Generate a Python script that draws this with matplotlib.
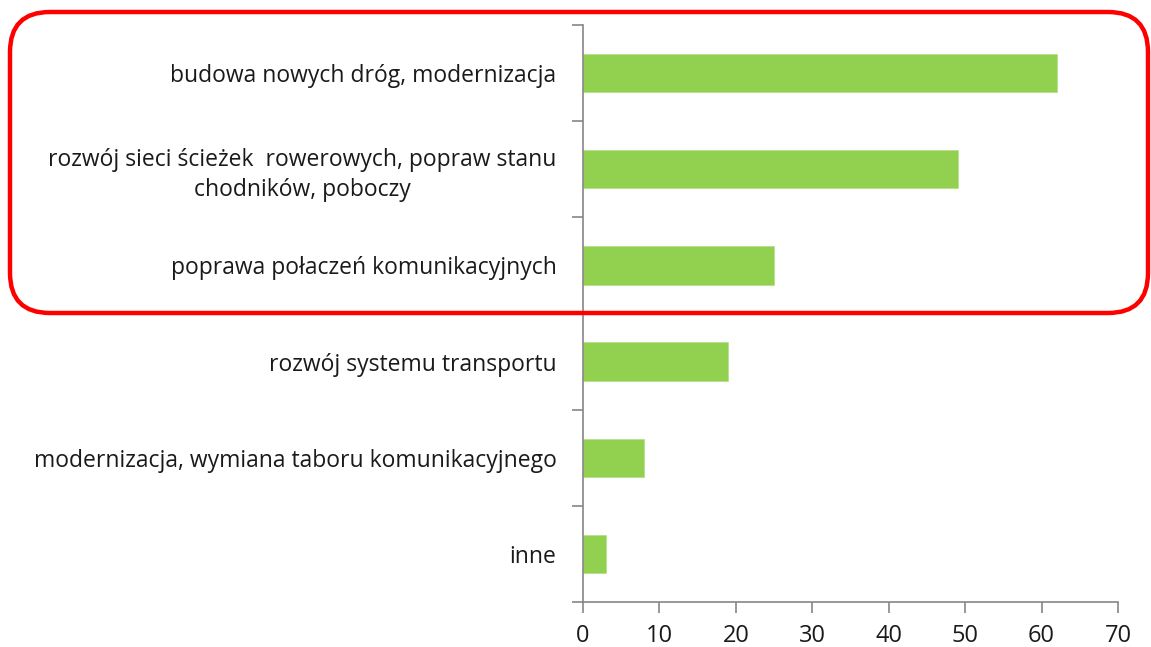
import matplotlib.pyplot as plt
from matplotlib.patches import FancyBboxPatch
import numpy as np

plt.rcParams['font.family'] = ['Open Sans', 'DejaVu Sans']

categories = [
    "budowa nowych dróg, modernizacja",
    "rozwój sieci ścieżek  rowerowych, popraw stanu\nchodników, poboczy",
    "poprawa połaczeń komunikacyjnych",
    "rozwój systemu transportu",
    "modernizacja, wymiana taboru komunikacyjnego",
    "inne",
]
values = [62, 49, 25, 19, 8, 3]
xticks = [0, 10, 20, 30, 40, 50, 60, 70]

grey = '#868686'

fig = plt.figure(figsize=(11.51, 6.47), dpi=100)
ax = fig.add_axes([583 / 1151, 1 - 602 / 647, 535 / 1151, 577 / 647])

ypos = np.arange(len(categories))
ax.barh(ypos, values, height=0.4, color='#92D050', edgecolor='#b5e08a', linewidth=0.6)
ax.set_ylim(len(categories) - 0.5, -0.5)
ax.set_xlim(0, 70)

ax.set_yticks(ypos)
ax.set_yticklabels(categories, fontsize=16.5, color='#1a1a1a', linespacing=1.3)
for lab in ax.get_yticklabels():
    lab.set_multialignment('center')
ax.set_yticks(np.arange(-0.5, len(categories)), minor=True)
ax.tick_params(axis='y', which='major', length=0, pad=19)
ax.tick_params(axis='y', which='minor', length=8, color=grey, width=1.2)

ax.set_xticks(xticks)
ax.set_xticklabels([str(t) for t in xticks], fontsize=17, color='#1a1a1a')
ax.tick_params(axis='x', length=8, color=grey, width=1.2, pad=8)

for s in ['top', 'right']:
    ax.spines[s].set_visible(False)
for s in ['left', 'bottom']:
    ax.spines[s].set_color(grey)
    ax.spines[s].set_linewidth(1.2)

# red rounded frame around top three categories (in inches)
box = FancyBboxPatch((0.10, 3.34), 11.38, 3.01,
                     boxstyle="round,pad=0,rounding_size=0.4",
                     transform=fig.dpi_scale_trans, fill=False,
                     edgecolor='#FF0000', linewidth=3.2, clip_on=False)
fig.patches.append(box)

fig.savefig('out.png', dpi=100)
